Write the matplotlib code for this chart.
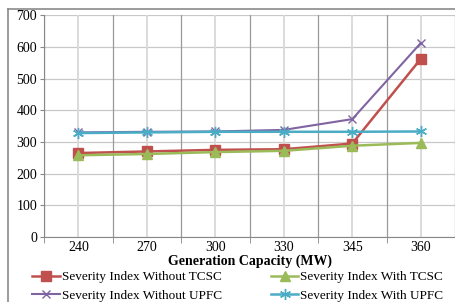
import matplotlib
matplotlib.use("Agg")
from matplotlib import pyplot as plt
from matplotlib.lines import Line2D

categories = ["240", "270", "300", "330", "345", "360"]
without_tcsc = [265, 270, 275, 277, 295, 562]
with_tcsc = [258, 262, 268, 272, 288, 297]
without_upfc = [330, 332, 333, 338, 372, 612]
with_upfc = [328, 330, 332, 332, 332, 333]

plt.rcParams['font.family'] = ['Liberation Serif', 'DejaVu Serif']

fig = plt.figure(figsize=(4.55, 3.02), dpi=100)
ax = fig.add_axes([0.097, 0.215, 0.903, 0.735])

x = list(range(len(categories)))

# gridlines: horizontal, category boundaries (darker) and centers (light)
for v in range(0, 701, 100):
    ax.axhline(v, color="#c8c8c8", lw=0.9, zorder=0)
for b in range(len(categories) + 1):
    ax.axvline(b - 0.5, color="#9a9a9a", lw=0.9, zorder=0)
for c in x:
    ax.axvline(c, color="#dadada", lw=1.4, zorder=0)

h1, = ax.plot(x, without_tcsc, color="#C0504D", lw=1.8, marker="s", ms=6.5,
              label="Severity Index Without TCSC")
h2, = ax.plot(x, with_tcsc, color="#9BBB59", lw=1.8, marker="^", ms=6.5,
              label="Severity Index With TCSC")
h3, = ax.plot(x, without_upfc, color="#8064A2", lw=1.5, marker="x", ms=6,
              mew=1.0, label="Severity Index Without UPFC")
h4, = ax.plot(x, with_upfc, color="#4BACC6", lw=1.8, marker=(6, 2, 0), ms=8,
              mew=1.0, label="Severity Index With UPFC")

ax.set_xlim(-0.5, 5.5)
ax.set_ylim(0, 700)
ax.set_yticks(range(0, 701, 100))
ax.set_xticks(x)
ax.set_xticklabels(categories)
ax.set_xticks([b - 0.5 for b in range(len(categories) + 1)], minor=True)
ax.tick_params(axis="x", which="major", length=0, labelsize=10, pad=3)
ax.tick_params(axis="x", which="minor", length=4, color="#888888")
ax.tick_params(axis="y", length=3, color="#888888", labelsize=10, pad=2)

for s in ["top", "right"]:
    ax.spines[s].set_visible(False)
ax.spines["left"].set_color("#888888")
ax.spines["bottom"].set_color("#888888")

ax.set_xlabel("Generation Capacity (MW)", fontweight="bold", fontsize=10,
              labelpad=0.5)

fig.legend(handles=[h1, h3, h2, h4], ncol=2, loc="upper left",
           bbox_to_anchor=(0.059, 0.12), frameon=False, fontsize=9.5,
           handlelength=2.1, handletextpad=0.15, columnspacing=3.7,
           labelspacing=0.5, borderaxespad=0)

# outer chart border
fig.add_artist(Line2D([8 / 455, 8 / 455], [0, 1 - 9 / 302], color="#8a8a8a", lw=1.2))
fig.add_artist(Line2D([8 / 455, 1], [1 - 9 / 302, 1 - 9 / 302], color="#8a8a8a", lw=1.2))

fig.savefig("out.png", dpi=100)
